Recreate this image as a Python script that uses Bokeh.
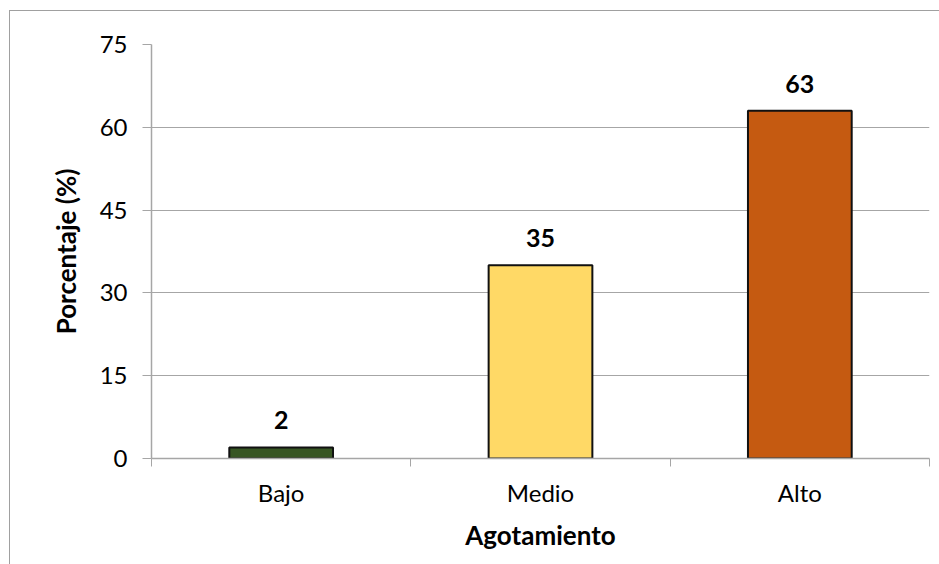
from bokeh.plotting import figure
from bokeh.models import Range1d, FixedTicker, ColumnDataSource
from bokeh.core.properties import value
from bokeh.embed import file_html
from bokeh.resources import INLINE

categories = ["Bajo", "Medio", "Alto"]
values = [2, 35, 63]
colors = ["#375623", "#FFD966", "#C55A11"]
y_ticks = [0, 15, 30, 45, 60, 75]
x_title = "Agotamiento"
y_title = "Porcentaje (%)"

FONT = "Lato"
GRAY = "#a6a6a6"

xpos = [i + 0.5 for i in range(len(categories))]
src = ColumnDataSource(dict(x=xpos, top=values, color=colors,
                            label=[str(v) for v in values]))

p = figure(width=930, height=554, frame_width=778, frame_height=414,
           min_border_left=141, min_border_top=33, min_border_right=11, min_border_bottom=107,
           x_range=Range1d(0, len(categories)), y_range=Range1d(0, 75),
           output_backend="svg", toolbar_location=None)
p.styles = {"margin-left": "9px", "margin-top": "10px",
            "border-left": "1px solid #a0a0a0", "border-top": "1px solid #a0a0a0"}
p.outline_line_color = None
p.background_fill_color = "white"
p.border_fill_color = "white"

p.vbar(x="x", top="top", width=0.4, bottom=0, source=src, fill_color="color",
       line_color="#111111", line_width=2)

p.text(x="x", y="top", text="label", source=src, text_align="center",
       text_baseline="alphabetic", y_offset=-27, text_font=value(FONT),
       text_font_style="bold", text_font_size="25px", text_color="black")

# x axis
p.xaxis.ticker = FixedTicker(ticks=xpos, minor_ticks=list(range(len(categories) + 1)))
p.xaxis.major_label_overrides = {x: c for x, c in zip(xpos, categories)}
p.xaxis.major_tick_out = 0
p.xaxis.major_tick_in = 0
p.xaxis.minor_tick_out = 8
p.xaxis.minor_tick_in = 0
p.xaxis.minor_tick_line_color = GRAY
p.xaxis.axis_line_color = GRAY
p.xaxis.major_label_standoff = 11
p.xaxis.axis_label = x_title
p.xaxis.axis_label_standoff = 9
p.xgrid.grid_line_color = None

# y axis
p.yaxis.ticker = FixedTicker(ticks=y_ticks, minor_ticks=[])
p.yaxis.major_tick_out = 9
p.yaxis.major_tick_in = 0
p.yaxis.major_tick_line_color = GRAY
p.yaxis.axis_line_color = GRAY
p.yaxis.major_label_standoff = 15
p.yaxis.axis_label = y_title
p.yaxis.axis_label_standoff = 15
p.ygrid.grid_line_color = GRAY
p.ygrid.ticker = FixedTicker(ticks=y_ticks)

for ax in (p.xaxis, p.yaxis):
    ax.major_label_text_font = FONT
    ax.major_label_text_font_size = "24px"
    ax.major_label_text_color = "black"
    ax.axis_label_text_font = FONT
    ax.axis_label_text_font_size = "26px"
    ax.axis_label_text_font_style = "bold"
    ax.axis_label_text_color = "black"
    ax.axis_line_width = 1.5

open("out.html", "w").write(file_html(p, INLINE))
